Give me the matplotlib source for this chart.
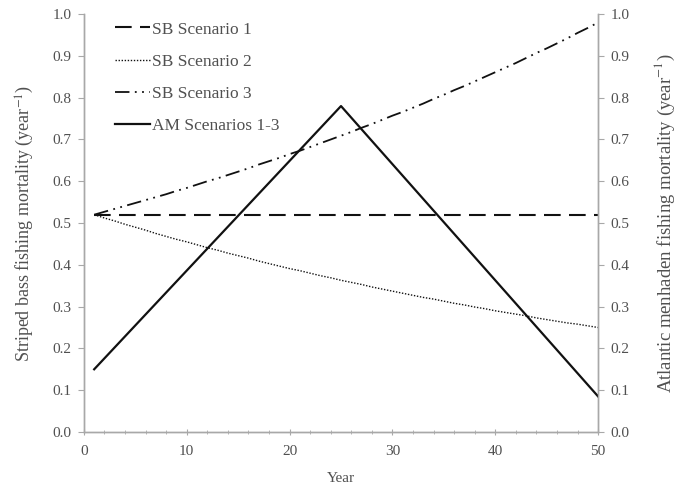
import matplotlib
matplotlib.use('Agg')
import matplotlib.pyplot as plt
from matplotlib.ticker import MultipleLocator

# ── data ─────────────────────────────────────────────────────────────────────
years = list(range(1, 51))
sb1 = [0.52] * 50
sb2 = [0.520, 0.512, 0.505, 0.497, 0.490, 0.483, 0.475, 0.468, 0.461, 0.455,
       0.448, 0.441, 0.435, 0.428, 0.422, 0.416, 0.409, 0.403, 0.397, 0.391,
       0.386, 0.380, 0.374, 0.369, 0.363, 0.358, 0.353, 0.347, 0.342, 0.337,
       0.332, 0.327, 0.322, 0.318, 0.313, 0.308, 0.304, 0.299, 0.295, 0.290,
       0.286, 0.282, 0.278, 0.273, 0.269, 0.265, 0.261, 0.258, 0.254, 0.250]
sb3 = [0.520, 0.527, 0.534, 0.541, 0.548, 0.555, 0.562, 0.569, 0.577, 0.584,
       0.592, 0.600, 0.607, 0.615, 0.623, 0.631, 0.640, 0.648, 0.656, 0.665,
       0.673, 0.682, 0.691, 0.700, 0.709, 0.718, 0.728, 0.737, 0.747, 0.757,
       0.766, 0.776, 0.786, 0.797, 0.807, 0.818, 0.828, 0.839, 0.850, 0.861,
       0.872, 0.883, 0.895, 0.907, 0.918, 0.930, 0.942, 0.955, 0.967, 0.980]
am_years = [1, 25, 50]
am = [0.15, 0.78, 0.085]

# ── style ────────────────────────────────────────────────────────────────────
TEXT  = '#505050'
SPINE = '#a8a8a8'
LINE  = '#111111'
plt.rcParams['font.family'] = ['Liberation Serif', 'DejaVu Serif']
plt.rcParams['mathtext.fontset'] = 'stix'

fig = plt.figure(figsize=(6.82, 4.87), dpi=100, facecolor='white')
ax = fig.add_axes([0.123, 0.113, 0.754, 0.858])
ax2 = ax.twinx()

ax.plot(years, sb1, color=LINE, lw=1.5, ls=(0, (8, 4)), label='SB Scenario 1')
ax.plot(years, sb2, color=LINE, lw=1.0, ls=(0, (1, 1.2)), label='SB Scenario 2')
ax.plot(years, sb3, color=LINE, lw=1.3, ls=(0, (8, 3, 1, 3, 1, 3)), label='SB Scenario 3')
ax2.plot(am_years, am, color=LINE, lw=1.6, label='AM Scenarios 1-3')

for a in (ax, ax2):
    a.set_xlim(0, 50)
    a.set_ylim(0, 1.0)
    a.yaxis.set_major_locator(MultipleLocator(0.1))
    a.yaxis.set_major_formatter(plt.FormatStrFormatter('%.1f'))
    for s in a.spines.values():
        s.set_color(SPINE)
        s.set_linewidth(1.0)
    a.spines['top'].set_visible(False)
    a.tick_params(colors=SPINE, labelcolor=TEXT, labelsize=11, length=4, width=0.8, pad=5)

ax.xaxis.set_major_locator(MultipleLocator(10))
ax.xaxis.set_minor_locator(MultipleLocator(2))
ax.tick_params(axis='x', which='minor', colors=SPINE, length=3, direction='inout')
ax.tick_params(axis='x', which='major', direction='inout', length=5, pad=7)

ax.set_xlabel('Year', color=TEXT, fontsize=11, labelpad=10)
ax.set_ylabel('Striped bass fishing mortality (year$^{-1}$)', color=TEXT, fontsize=13, labelpad=12)
ax2.set_ylabel('Atlantic menhaden fishing mortality (year$^{-1}$)', color=TEXT, fontsize=13.5,
               labelpad=17, rotation=90)

h1, l1 = ax.get_legend_handles_labels()
h2, l2 = ax2.get_legend_handles_labels()
leg = ax.legend(h1 + h2, l1 + l2, loc='upper left', frameon=False, fontsize=12.5,
                handlelength=2.0, handletextpad=0.15, labelspacing=0.92,
                bbox_to_anchor=(0.03, 1.02))
for t in leg.get_texts():
    t.set_color(TEXT)

plt.savefig('out.png', dpi=100, facecolor='white')
